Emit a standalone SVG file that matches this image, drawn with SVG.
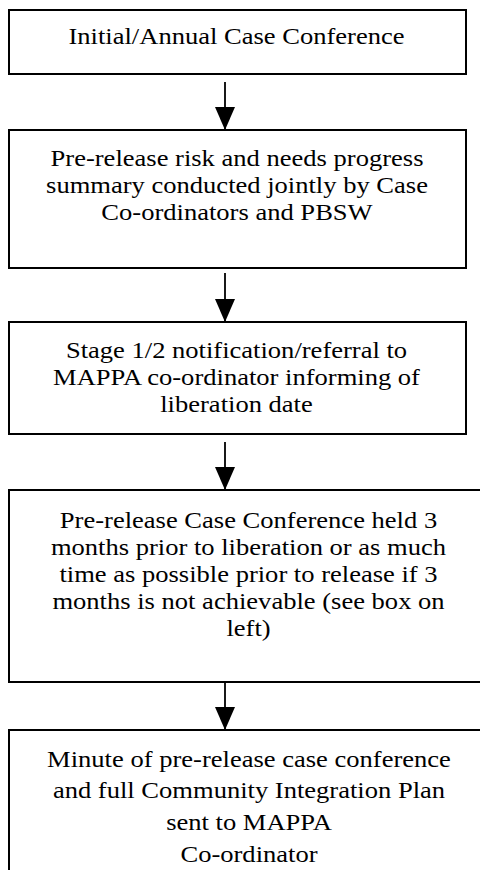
<svg xmlns="http://www.w3.org/2000/svg" width="480" height="870" viewBox="0 0 480 870">
<style>
.box{fill:#fff;stroke:#000;stroke-width:2}
.lbl{font-family:"Liberation Serif","Times New Roman",serif;font-size:23.5px;fill:#000;text-anchor:middle}
.con{stroke:#000;stroke-width:1.8;fill:none}
</style>
<defs>
<marker id="ah" markerUnits="userSpaceOnUse" viewBox="0 0 23 20" markerWidth="23" markerHeight="20" refX="23" refY="10" orient="auto">
<path d="M0,0 L23,10 L0,20 Z" fill="#000"/>
</marker>
</defs>
<rect width="480" height="870" fill="#fff"/>
<g id="connectors">
<line class="con" x1="225" y1="82" x2="225" y2="130" marker-end="url(#ah)"/>
<line class="con" x1="225" y1="273" x2="225" y2="322" marker-end="url(#ah)"/>
<line class="con" x1="225" y1="442" x2="225" y2="490" marker-end="url(#ah)"/>
<line class="con" x1="225" y1="682" x2="225" y2="730" marker-end="url(#ah)"/>
</g>
<g id="n1">
<rect class="box" x="9" y="10" width="457" height="64"/>
<g transform="translate(236.5,0) scale(1.13,1)">
<text class="lbl" x="0" y="44">Initial/Annual Case Conference</text>
</g>
</g>
<g id="n2">
<rect class="box" x="9" y="130" width="457" height="138"/>
<g transform="translate(237,0) scale(1.13,1)">
<text class="lbl" x="0" y="166.5">Pre-release risk and needs progress</text>
<text class="lbl" x="0" y="193.5">summary conducted jointly by Case</text>
<text class="lbl" x="0" y="220.5">Co-ordinators and PBSW</text>
</g>
</g>
<g id="n3">
<rect class="box" x="9" y="322" width="457" height="112"/>
<g transform="translate(236.5,0) scale(1.13,1)">
<text class="lbl" x="0" y="358.3">Stage 1/2 notification/referral to</text>
<text class="lbl" x="0" y="385">MAPPA co-ordinator informing of</text>
<text class="lbl" x="0" y="411.7">liberation date</text>
</g>
</g>
<g id="n4">
<rect class="box" x="9" y="490" width="479" height="192"/>
<g transform="translate(248.5,0) scale(1.13,1)">
<text class="lbl" x="0" y="528.3">Pre-release Case Conference held 3</text>
<text class="lbl" x="0" y="555.5">months prior to liberation or as much</text>
<text class="lbl" x="0" y="582.3">time as possible prior to release if 3</text>
<text class="lbl" x="0" y="609">months is not achievable (see box on</text>
<text class="lbl" x="0" y="636">left)</text>
</g>
</g>
<g id="n5">
<rect class="box" x="9" y="730" width="481" height="160"/>
<g transform="translate(249,0) scale(1.13,1)">
<text class="lbl" x="0" y="766.7">Minute of pre-release case conference</text>
<text class="lbl" x="0" y="798.5">and full Community Integration Plan</text>
<text class="lbl" x="0" y="830.5">sent to MAPPA</text>
<text class="lbl" x="0" y="862.5">Co-ordinator</text>
</g>
</g>
</svg>
